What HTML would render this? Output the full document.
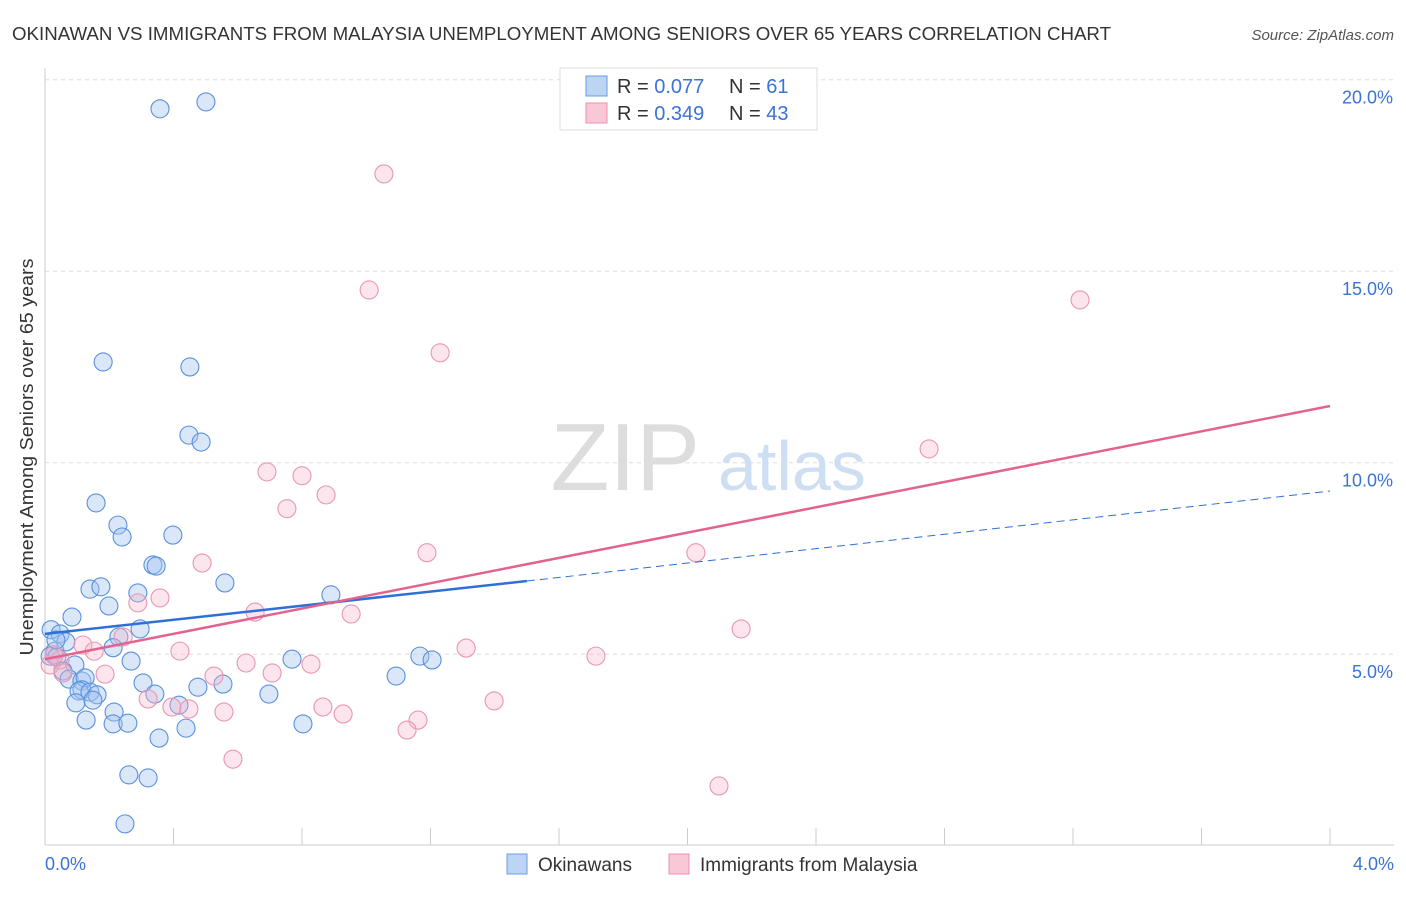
<!DOCTYPE html>
<html><head><meta charset="utf-8"><style>
body{margin:0;background:#fff;font-family:"Liberation Sans",sans-serif;}
svg text{font-family:"Liberation Sans",sans-serif;}
</style></head><body>
<svg id="chart" width="1406" height="892">
<text x="12" y="40" font-size="18" fill="#333" textLength="1099" lengthAdjust="spacingAndGlyphs">OKINAWAN VS IMMIGRANTS FROM MALAYSIA UNEMPLOYMENT AMONG SENIORS OVER 65 YEARS CORRELATION CHART</text>
<text x="1394" y="40" font-size="15" fill="#555" font-style="italic" text-anchor="end">Source: ZipAtlas.com</text>
<g id="grid"></g>
<text x="700" y="490" font-size="96" fill="#ddd" text-anchor="end" font-family="Liberation Serif">ZIP</text>
<text x="718" y="490" font-size="70" fill="#cfdff3">atlas</text>
<g id="pts"></g>
<g id="lines"></g>
<text x="33" y="457" font-size="18" fill="#333" text-anchor="middle" textLength="397" lengthAdjust="spacingAndGlyphs" transform="rotate(-90 33 457)">Unemployment Among Seniors over 65 years</text>
<text x="45" y="870" font-size="18" fill="#3b73d6">0.0%</text>
<text x="1394" y="870" font-size="18" fill="#3b73d6" text-anchor="end">4.0%</text>
<g>
<rect x="560" y="68" width="257" height="62" fill="#fff" stroke="#ddd"/>
<rect x="586" y="76" width="21" height="20" fill="#bcd5f5" stroke="#6a9be0"/>
<rect x="586" y="103" width="21" height="20" fill="#f9c8d7" stroke="#ea92af"/>
<text x="617" y="93" font-size="20" fill="#333">R = <tspan fill="#3b73d6">0.077</tspan></text>
<text x="729" y="93" font-size="20" fill="#333">N = <tspan fill="#3b73d6"> 61</tspan></text>
<text x="617" y="120" font-size="20" fill="#333">R = <tspan fill="#3b73d6">0.349</tspan></text>
<text x="729" y="120" font-size="20" fill="#333">N = <tspan fill="#3b73d6">43</tspan></text>
</g>
<g>
<rect x="507" y="854" width="20" height="20" fill="#bcd5f5" stroke="#6a9be0"/>
<text x="538" y="871" font-size="19" fill="#333">Okinawans</text>
<rect x="669" y="854" width="20" height="20" fill="#f9c8d7" stroke="#ea92af"/>
<text x="700" y="871" font-size="19" fill="#333">Immigrants from Malaysia</text>
</g>
</svg>
<script>
const blueX=[0.358,0.501,0.181,0.451,0.448,0.486,0.159,0.227,0.240,0.398,0.336,0.346,0.560,0.140,0.174,0.289,0.199,0.084,0.890,0.296,0.019,0.047,0.230,0.212,0.031,0.016,0.037,0.268,0.093,0.056,0.769,1.167,1.205,0.075,0.115,0.125,0.115,0.305,0.106,0.140,0.162,0.149,0.342,0.476,0.554,0.096,0.697,1.093,0.417,0.215,0.128,0.212,0.258,0.439,0.803,0.355,0.261,0.321,0.249,0.065,0.034];
const blueY=[19.24,19.42,12.63,12.50,10.72,10.54,8.95,8.37,8.06,8.11,7.33,7.30,6.86,6.70,6.76,6.60,6.26,5.97,6.55,5.66,5.64,5.53,5.45,5.17,5.08,4.95,4.93,4.82,4.72,4.56,4.87,4.95,4.85,4.35,4.30,4.38,4.07,4.25,4.04,4.01,3.94,3.80,3.96,4.14,4.22,3.73,3.96,4.43,3.67,3.49,3.28,3.18,3.20,3.07,3.18,2.81,1.85,1.77,0.57,5.32,5.37];
const pinkX=[1.055,1.009,3.222,1.230,2.752,0.691,0.800,0.875,0.753,1.189,2.026,0.489,0.358,0.289,0.654,0.953,2.167,0.243,0.118,0.153,0.420,1.311,0.626,0.828,1.715,0.526,0.707,0.187,0.047,0.016,0.056,0.321,1.398,0.395,0.448,0.557,0.865,0.928,1.161,1.127,0.585,2.098,0.028];
const pinkY=[17.54,14.51,14.25,12.87,10.36,9.76,9.66,9.16,8.80,7.65,7.65,7.38,6.47,6.34,6.10,6.05,5.66,5.45,5.24,5.08,5.08,5.16,4.77,4.74,4.95,4.43,4.51,4.48,4.85,4.72,4.51,3.83,3.78,3.62,3.57,3.49,3.62,3.44,3.28,3.02,2.26,1.56,4.98];
const yTicks=[5,10,15,20];
const yTickLabels=["5.0%","10.0%","15.0%","20.0%"];
const xTicks=[0,0.4,0.8,1.2,1.6,2.0,2.4,2.8,3.2,3.6,4.0];
const blueTrend=[5.53,6.91,9.26]; // at x=0, 1.5, 4
const pinkTrend=[4.87,11.48]; // at x=0, 4
const NS="http://www.w3.org/2000/svg";
const sx=v=>45+v*321.25, sy=v=>845.7-v*38.3;
function mk(t,a,p){const e=document.createElementNS(NS,t);for(const k in a)e.setAttribute(k,a[k]);p.appendChild(e);return e;}
const grid=document.getElementById('grid');
let ax=mk('line',{x1:45,y1:68,x2:45,y2:845,stroke:'#ccc'},grid);


let bx=mk('line',{x1:45,y1:845,x2:1394,y2:845,stroke:'#ccc'},grid);


yTicks.forEach((v,i)=>{
 const g=mk('line',{x1:45,y1:sy(v),x2:1394,y2:sy(v),stroke:'#ddd','stroke-dasharray':'4,4'},grid);
 
 
 const t=mk('text',{x:1393,y:sy(v)+24,'font-size':18,fill:'#3b73d6','text-anchor':'end'},grid);
 t.textContent=yTickLabels[i];
 
 
});
xTicks.forEach(v=>{
 const l=mk('line',{x1:sx(v),y1:828,x2:sx(v),y2:845,stroke:'#ccc'},grid);
 
 
});
const pts=document.getElementById('pts');
blueX.forEach((x,i)=>{
 const c=mk('circle',{cx:sx(x),cy:sy(blueY[i]),r:9,fill:'rgba(160,196,240,0.4)',stroke:'#5b90dc','stroke-width':1.1},pts);
 
 
});
pinkX.forEach((x,i)=>{
 const c=mk('circle',{cx:sx(x),cy:sy(pinkY[i]),r:9,fill:'rgba(246,180,200,0.35)',stroke:'#e996b2','stroke-width':1.1},pts);
 
 
});
const ln=document.getElementById('lines');
let b1=mk('line',{x1:sx(0),y1:sy(blueTrend[0]),x2:sx(1.5),y2:sy(blueTrend[1]),stroke:'#2f6fd8','stroke-width':2.5},ln);


let b2=mk('line',{x1:sx(1.5),y1:sy(blueTrend[1]),x2:sx(4),y2:sy(blueTrend[2]),stroke:'#2f6fd8','stroke-width':1,'stroke-dasharray':'8,5'},ln);


let p1=mk('line',{x1:sx(0),y1:sy(pinkTrend[0]),x2:sx(4),y2:sy(pinkTrend[1]),stroke:'#e4628f','stroke-width':2.5},ln);


</script>
</body></html>
